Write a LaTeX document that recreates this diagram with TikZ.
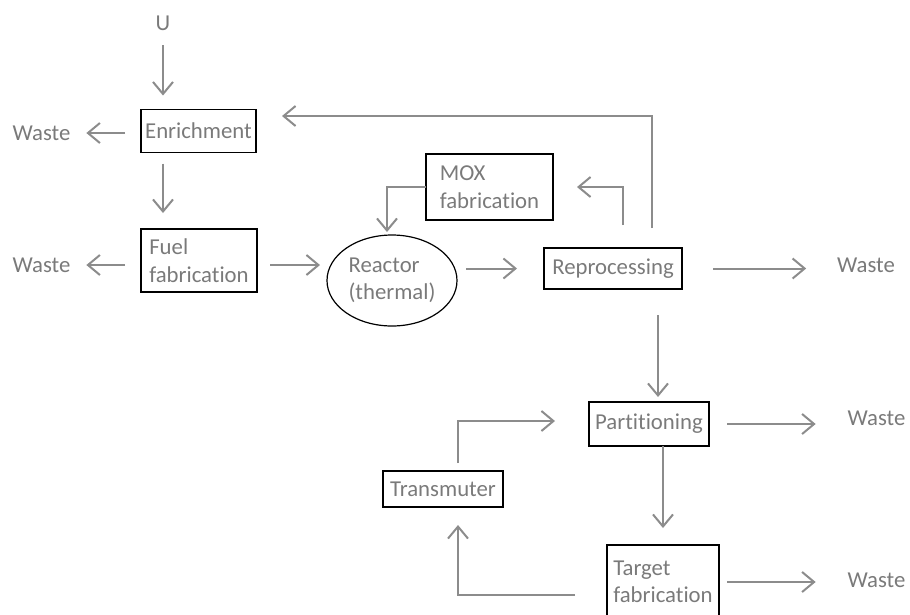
\documentclass[tikz,border=0pt]{standalone}
\usepackage{fontspec}
\setmainfont{Carlito}[Ligatures={NoCommon,NoContextual}]
\usetikzlibrary{arrows.meta,shapes.geometric}
\definecolor{txtgray}{HTML}{7A7A7A}
\definecolor{arrgray}{HTML}{8C8C8C}
\tikzset{
  procbox/.style={draw=black, line width=1.4pt, rectangle, inner sep=0pt, outer sep=0pt,
    align=left, text=txtgray, font=\fontsize{22.75}{27.5}\selectfont},
  label/.style={inner sep=0pt, outer sep=0pt, text=txtgray, font=\fontsize{22.75}{27.5}\selectfont},
  flow/.style={draw=arrgray, line width=2pt, -{Straight Barb[length=12pt,width=20pt,line width=2pt]}},
}
\begin{document}
\begin{tikzpicture}[x=1pt,y=-1pt]
\useasboundingbox (0,0) rectangle (910,614);
\clip (0,0) rectangle (910,614);
% nodes
\node[label] (U) at (163,23) {U};
\node[procbox, minimum width=115pt, minimum height=43pt] (enr) at (198.5,131) {Enrichment};
\node[label] (w1) at (41.5,133) {Waste};
\node[procbox, minimum width=116pt, minimum height=63pt] (fuel) at (199,260.5) {Fuel\\fabrication};
\node[label] (w2) at (41.5,265) {Waste};
\node[ellipse, draw=black, line width=1.2pt, inner sep=0pt, outer sep=0pt, minimum width=130pt, minimum height=91pt,
      align=left, text=txtgray, font=\fontsize{22.75}{27.5}\selectfont] (reac) at (392,280.5) {Reactor\\(thermal)};
\node[procbox, minimum width=127pt, minimum height=66pt] (mox) at (489.5,187) {MOX\\fabrication};
\node[procbox, minimum width=138pt, minimum height=41pt] (rep) at (613,268.5) {Reprocessing};
\node[label] (w3) at (866,265) {Waste};
\node[procbox, minimum width=120pt, minimum height=44pt] (part) at (649,424) {Partitioning};
\node[label] (w4) at (876.5,418) {Waste};
\node[procbox, minimum width=112pt, minimum height=74pt] (targ) at (663,582) {Target\\fabrication};
\node[label] (w5) at (876.5,580) {Waste};
\node[procbox, minimum width=120pt, minimum height=36pt] (trans) at (443,489) {Transmuter};
% connectors
\draw[flow, shorten <=15pt, shorten >=14pt] (U) -- (enr.north -| U);
\draw[flow, shorten <=16pt, shorten >=16pt] (enr.west |- w1.east) -- (w1.east);
\draw[flow, shorten <=11pt, shorten >=16pt] (enr.south -| U) -- (fuel.north -| U);
\draw[flow, shorten <=16pt, shorten >=16pt] (fuel.west |- w2.east) -- (w2.east);
\draw[flow, shorten <=13pt, shorten >=7pt] (fuel.east |- w2.east) -- (reac.west |- w2.east);
\draw[flow, shorten <=9pt, shorten >=27pt] (reac.east |- rep.west) -- (rep.west);
\draw[flow, shorten <=31pt, shorten >=31pt] (rep.east) -- (w3.west |- rep.east);
\draw[flow, shorten <=23pt, shorten >=24pt] ([xshift=10pt]rep.north) |- (mox.east);
\draw[flow, shorten >=3pt] (mox.west) -| ([xshift=-5pt]reac.north);
\draw[flow, shorten <=20pt, shorten >=26pt] ([xshift=39pt]rep.north) |- ([yshift=15pt]enr.east);
\draw[flow, shorten <=26pt, shorten >=5pt] ([xshift=45pt]rep.south) -- ([xshift=9pt]part.north);
\draw[flow, shorten <=18pt, shorten >=32pt] (part.east) -- (w4.west |- part.east);
\draw[flow, shorten >=17pt] (targ.north |- part.south) -- (targ.north);
\draw[flow, shorten <=8pt, shorten >=32pt] (targ.east) -- (w5.west |- targ.east);
\draw[flow, shorten <=32pt, shorten >=18pt] ([yshift=-13pt]targ.west) -| ([xshift=15pt]trans.south);
\draw[flow, shorten <=8pt, shorten >=34pt] ([xshift=15pt]trans.north) |- ([yshift=3pt]part.west);
\end{tikzpicture}
\end{document}
